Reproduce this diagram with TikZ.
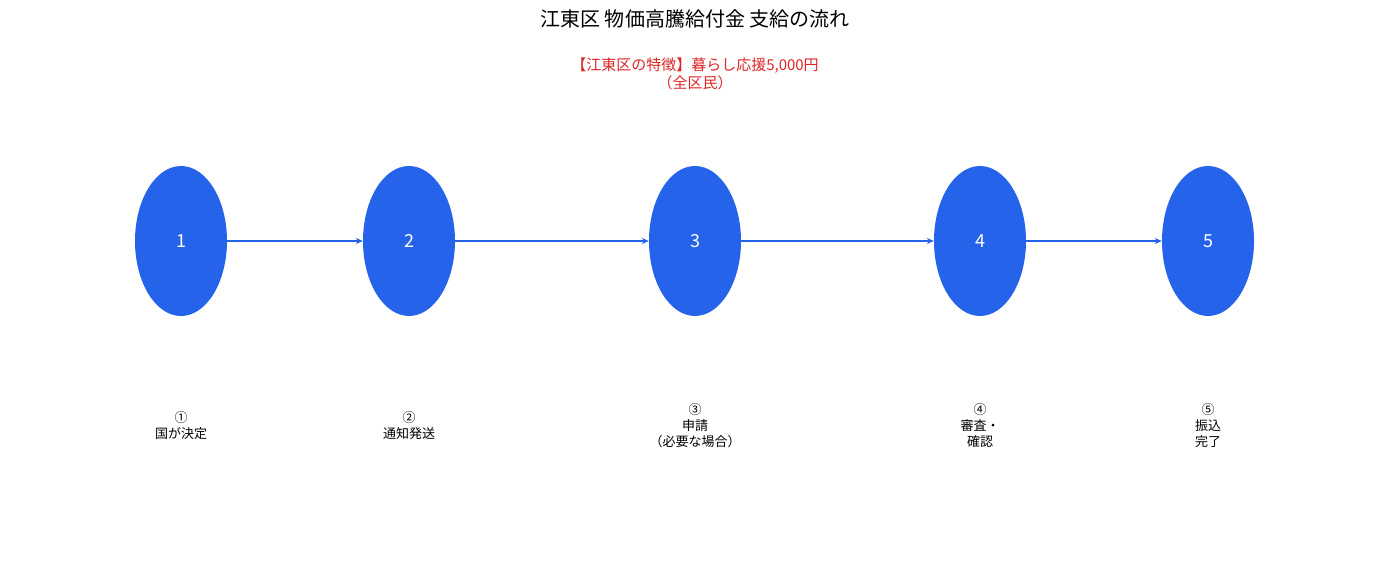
\documentclass[tikz,border=0pt]{standalone}
\usepackage{fontspec}
\setmainfont{Noto Sans CJK JP}
\usetikzlibrary{shapes.geometric,arrows.meta}
\definecolor{nodeblue}{HTML}{2563EB}
\definecolor{subred}{HTML}{DC2626}
\tikzset{
  stepnode/.style={ellipse,fill=nodeblue,minimum width=92pt,minimum height=150pt,inner sep=0pt,text=white,font=\fontsize{18pt}{20pt}\selectfont},
  conn/.style={nodeblue,line width=2.5pt,-{Stealth[length=7pt,width=6pt]}},
  lbl/.style={align=center,font=\fontsize{13pt}{16pt}\selectfont}
}
\begin{document}
\begin{tikzpicture}[x=1pt,y=1pt]
\useasboundingbox (0,0) rectangle (1389,587);
\node[font=\fontsize{20pt}{24pt}\selectfont] (title) at (695,568) {江東区 物価高騰給付金 支給の流れ};
\node[lbl,text=subred,font=\fontsize{15pt}{18pt}\selectfont] (sub) at (695,513) {【江東区の特徴】暮らし応援5,000円\\（全区民）};
\node[stepnode] (n1) at (181,346) {1};
\node[stepnode] (n2) at (409,346) {2};
\node[stepnode] (n3) at (695,346) {3};
\node[stepnode] (n4) at (980,346) {4};
\node[stepnode] (n5) at (1208,346) {5};
\draw[conn] (n1) -- (n2);
\draw[conn] (n2) -- (n3);
\draw[conn] (n3) -- (n4);
\draw[conn] (n4) -- (n5);
\node[lbl] (l1) at (181,161) {①\\国が決定};
\node[lbl] (l2) at (409,161) {②\\通知発送};
\node[lbl] (l3) at (695,161) {③\\申請\\（必要な場合）};
\node[lbl] (l4) at (980,161) {④\\審査・\\確認};
\node[lbl] (l5) at (1208,161) {⑤\\振込\\完了};
\end{tikzpicture}
\end{document}
